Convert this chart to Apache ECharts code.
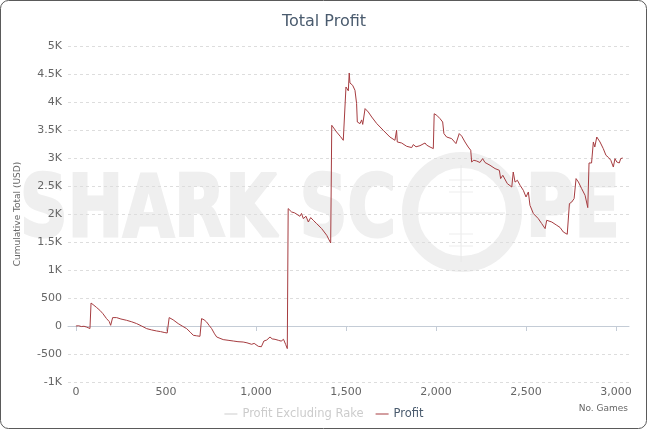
<!DOCTYPE html>
<html>
<head>
<meta charset="utf-8">
<script src="https://cdn.jsdelivr.net/npm/echarts@6/dist/echarts.min.js"></script>
<style>
  html, body { margin: 0; padding: 0; background: #fff; }
  #main { width: 648px; height: 431px; }
</style>
</head>
<body>
<div id="main"></div>
<script>
// number of games played (x) and cumulative profit in USD (y)
const games = [
  0, 15, 30, 45, 60, 78, 84, 100, 115, 133, 150, 170, 185, 193, 204, 215, 226, 250, 281, 310,
  337, 365, 393, 420, 448, 470, 490, 507, 518, 540, 568, 590, 615, 635, 652, 670, 689, 698, 712, 726,
  740, 754, 770, 782, 800, 818, 845, 874, 900, 929, 950, 976, 990, 1000, 1013, 1030, 1041, 1044, 1060, 1078,
  1090, 1106, 1124, 1140, 1148, 1153, 1165, 1174, 1179, 1198, 1215, 1226, 1244, 1253, 1263, 1278, 1291, 1304, 1318, 1337,
  1365, 1393, 1415, 1421, 1448, 1470, 1485, 1494, 1500, 1507, 1513, 1518, 1522, 1537, 1550, 1559, 1563, 1578, 1587, 1593,
  1606, 1624, 1643, 1671, 1707, 1744, 1772, 1781, 1785, 1809, 1837, 1865, 1874, 1889, 1911, 1939, 1948, 1967, 1985, 1990,
  2004, 2022, 2037, 2044, 2059, 2087, 2111, 2120, 2129, 2143, 2161, 2179, 2193, 2198, 2210, 2226, 2244, 2259, 2272, 2300,
  2328, 2352, 2359, 2371, 2396, 2421, 2429, 2439, 2452, 2467, 2485, 2500, 2513, 2522, 2541, 2568, 2587, 2606, 2615, 2643,
  2652, 2671, 2689, 2707, 2729, 2741, 2754, 2767, 2778, 2791, 2809, 2828, 2843, 2850, 2864, 2874, 2882, 2893, 2911, 2929,
  2944, 2958, 2971, 2985, 2994, 3004, 3018, 3022, 3026, 3037
];
const profit = [
  0, 5, -10, -5, -20, -45, 410, 370, 330, 280, 220, 132, 80, 12, 150, 140, 150, 125, 102, 75,
  43, 0, -47, -70, -89, -100, -115, -125, 150, 110, 43, 0, -47, -110, -166, -175, -184, 132, 110, 71,
  10, -47, -140, -196, -220, -243, -255, -268, -280, -286, -300, -327, -310, -345, -363, -370, -375, -268, -250, -196,
  -230, -238, -255, -270, -286, -238, -330, -404, 2096, 2036, 2020, 2007, 1959, 2010, 1918, 1960, 1857, 1936, 1888, 1829,
  1739, 1620, 1482, 3584, 3464, 3380, 3316, 3300, 4268, 4240, 4200, 4518, 4340, 4298, 4209, 3971, 3643, 3614, 3680, 3600,
  3882, 3821, 3732, 3614, 3495, 3375, 3316, 3495, 3286, 3268, 3209, 3186, 3240, 3200, 3220, 3268, 3230, 3196, 3168, 3790,
  3763, 3704, 3643, 3436, 3375, 3346, 3257, 3290, 3436, 3390, 3286, 3196, 3138, 2929, 2960, 2946, 2920, 2989, 2920, 2870,
  2811, 2780, 2632, 2691, 2543, 2482, 2750, 2570, 2602, 2513, 2423, 2304, 2393, 2155, 2007, 1918, 1829, 1739, 1888, 1857,
  1890, 1798, 1760, 1679, 1638, 2186, 2214, 2275, 2632, 2571, 2453, 2334, 2114, 2911, 2911, 3286, 3196, 3375, 3286, 3168,
  3048, 3010, 2959, 2839, 2989, 2929, 2911, 2900, 2989, 3000
];
const xTickValues = [0, 500, 1000, 1500, 2000, 2500, 3000];
const seriesNames = ['Profit Excluding Rake', 'Profit'];

const lineColor = '#a63c40';
const labelFont = 'DejaVu Sans';
const markColor = '#efefef';

const chart = echarts.init(document.getElementById('main'));

const fmtY = v => {
  if (Math.abs(v) >= 1000) return (v / 1000) + 'K';
  return String(v);
};

// big faint logo text, thickened with a stroke of the same colour
const markText = (text, x) => ({
  type: 'text', z: -1, x: x, y: 214, scaleX: 0.77,
  style: {
    text: text, fontSize: 86, fontWeight: 'bold', fontFamily: 'DejaVu Sans',
    fill: markColor, stroke: markColor, lineWidth: 3, verticalAlign: 'middle'
  }
});

const option = {
  animation: false,
  backgroundColor: '#fff',
  title: {
    text: 'Total Profit',
    left: 'center',
    top: 9,
    textStyle: { fontFamily: labelFont, fontSize: 16, fontWeight: 'normal', color: '#4a5b6e' }
  },
  legend: {
    data: seriesNames,
    selected: { 'Profit Excluding Rake': false },
    left: 'center',
    top: 403,
    icon: 'rect',
    itemWidth: 13,
    itemHeight: 1,
    itemGap: 12,
    inactiveColor: '#cccccc',
    textStyle: { fontFamily: labelFont, fontSize: 11.5, color: '#4a5b6e' }
  },
  grid: { left: 68, right: 19, top: 46, bottom: 49 },
  xAxis: {
    type: 'value',
    min: -44,
    max: 3072,
    splitLine: { show: false },
    axisLine: { lineStyle: { color: '#c4ccd6' } },
    axisTick: { show: true, length: 5, customValues: xTickValues, lineStyle: { color: '#c4ccd6' } },
    axisLabel: {
      customValues: xTickValues,
      margin: 5,
      fontFamily: labelFont,
      fontSize: 11,
      color: '#666',
      formatter: v => v.toLocaleString('en-US')
    }
  },
  yAxis: {
    type: 'value',
    min: -1000,
    max: 5000,
    interval: 500,
    name: 'Cumulative Total (USD)',
    nameLocation: 'middle',
    nameGap: 46,
    nameTextStyle: { fontFamily: labelFont, fontSize: 9, color: '#666' },
    axisLine: { show: false },
    axisTick: { show: false },
    axisLabel: { margin: 6, fontFamily: labelFont, fontSize: 11, color: '#666', formatter: fmtY },
    splitLine: { lineStyle: { color: '#dddddd', type: [3, 3] } }
  },
  graphic: [
    // watermark
    markText('SHARK SC', 20),
    markText('PE', 526),
    {
      type: 'circle', z: -1, shape: { cx: 462, cy: 212, r: 52 },
      style: { fill: 'none', stroke: markColor, lineWidth: 16 }
    },
    { type: 'line', z: -1, shape: { x1: 461, y1: 165, x2: 461, y2: 262 }, style: { stroke: '#e8e8e8', lineWidth: 1 } },
    { type: 'line', z: -1, shape: { x1: 418, y1: 213, x2: 505, y2: 213 }, style: { stroke: '#e8e8e8', lineWidth: 1 } },
    { type: 'line', z: -1, shape: { x1: 449, y1: 180, x2: 473, y2: 180 }, style: { stroke: '#ededed', lineWidth: 1 } },
    { type: 'line', z: -1, shape: { x1: 449, y1: 192, x2: 473, y2: 192 }, style: { stroke: '#ededed', lineWidth: 1 } },
    { type: 'line', z: -1, shape: { x1: 449, y1: 234, x2: 473, y2: 234 }, style: { stroke: '#ededed', lineWidth: 1 } },
    { type: 'line', z: -1, shape: { x1: 449, y1: 246, x2: 473, y2: 246 }, style: { stroke: '#ededed', lineWidth: 1 } },
    // x-axis name below the labels
    {
      type: 'text', x: 628, y: 409,
      style: { text: 'No. Games', fontSize: 9, fontFamily: labelFont, fill: '#666', align: 'right', verticalAlign: 'middle' }
    },
    // outer frame
    {
      type: 'rect', z: 10, shape: { x: 0.5, y: 0.5, width: 646, height: 428, r: 8 },
      style: { fill: 'none', stroke: '#5a5a5a', lineWidth: 1 }
    }
  ],
  series: [
    {
      name: 'Profit Excluding Rake',
      type: 'line',
      symbol: 'none',
      data: [],
      itemStyle: { color: '#7f8fa0' },
      lineStyle: { color: '#7f8fa0', width: 1 }
    },
    {
      name: 'Profit',
      type: 'line',
      symbol: 'none',
      z: 3,
      data: games.map((g, i) => [g, profit[i]]),
      itemStyle: { color: lineColor },
      lineStyle: { color: lineColor, width: 1 }
    }
  ]
};

chart.setOption(option);
</script>
</body>
</html>
